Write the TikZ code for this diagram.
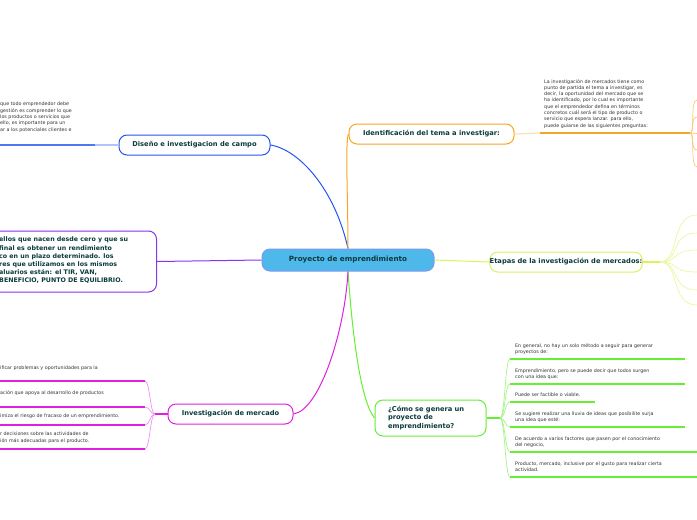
\documentclass[tikz,border=0pt]{standalone}
\usepackage{fontspec}
\setmainfont{DejaVu Sans}
\begin{document}
\begin{tikzpicture}[x=1pt,y=-1pt,
 main/.style={draw=#1,line width=1pt,rounded corners=8pt,font=\fontsize{6.7}{8.2}\selectfont\bfseries,inner sep=0},
 small/.style={font=\fontsize{4.8}{6.3}\selectfont,text=black!80,align=left,anchor=north west,inner sep=0}]
\definecolor{bl}{HTML}{2255EE}\definecolor{orn}{HTML}{F5A623}\definecolor{ylw}{HTML}{DDF060}
\definecolor{grn}{HTML}{66EE33}\definecolor{mag}{HTML}{E020E0}\definecolor{pur}{HTML}{8833EE}
\definecolor{tx}{HTML}{0B3B3B}\definecolor{cfill}{HTML}{4FB8EA}
\useasboundingbox (0,0) rectangle (697,520);
% center
\node[main=bl!60,fill=cfill,minimum width=172pt,minimum height=22pt,text=tx,font=\fontsize{7.2}{8.5}\selectfont\bfseries] (c) at (348,260) {Proyecto de emprendimiento};
% branches
\node[main=bl,fill=white,minimum width=151pt,minimum height=20pt,text=tx] (d) at (194.5,145) {Diseño e investigacion de campo};
\node[main=orn,fill=white,minimum width=165pt,minimum height=20pt,text=tx] (i) at (431.5,134) {Identificación del tema a investigar:};
\node[main=ylw,fill=white,minimum width=150pt,minimum height=20pt,text=tx] (e) at (566,262) {Etapas de la investigación de mercados:};
\node[main=grn,fill=white,minimum width=111pt,minimum height=36pt,text=tx,align=left,text width=85pt] (g) at (430.5,418) {¿Cómo se genera un\\proyecto de\\emprendimiento?};
\node[main=mag,fill=white,minimum width=125pt,minimum height=20pt,text=tx] (m) at (230.5,414) {Investigación de mercado};
\node[main=pur,fill=white,minimum width=180pt,minimum height=61pt,anchor=east] (p) at (157,261.5) {};
\node[font=\fontsize{6.3}{8.2}\selectfont\bfseries,text=tx,align=left,anchor=north west,inner sep=0] (pt) at (-1,237) {ellos que nacen desde cero y que su\\ final es obtener un rendimiento\\co en un plazo determinado. los\\res que utilizamos en los mismos\\aluarios están: el TIR, VAN,\\BENEFICIO, PUNTO DE EQUILIBRIO.};
% connectors from center
\draw[bl,line width=1pt] (c.north) .. controls (335,190) and (300,150) .. (d.east);
\draw[orn,line width=1pt] (c.north) .. controls (348,200) and (345,140) .. (i.west);
\draw[ylw,line width=1pt] (c.east) -- (e.west);
\draw[grn,line width=1pt] (c.south) .. controls (352,330) and (360,400) .. (g.west);
\draw[mag,line width=1pt] (c.south) .. controls (345,330) and (320,410) .. (m.east);
\draw[pur,line width=1pt] (c.west) -- (p.east);
% Diseño
\coordinate (d0) at (0,145);\coordinate (d1) at (95,145);
\draw[bl!35,line width=1.2pt] (d.west) -- (d1);
\draw[bl!80,line width=1.2pt] (d1) -- (d0);
\node[small] (dt) at (0,102) {que todo emprendedor debe\\ gestión es comprender lo que\\ los productos o servicios que\\ ello, es importante para un\\ar a los potenciales clientes e};
% Identificación
\coordinate (ia) at (540,133);\coordinate (ib) at (690,133);
\draw[orn!35,line width=1.2pt] (i.east) -- (ia);
\draw[orn,line width=1.2pt] (ia) -- (ib);
\node[small] (itx) at (544,79) {La investigación de mercados tiene como\\punto de partida el tema a investigar, es\\decir, la oportunidad del mercado que se\\ha identificado, por lo cual es importante\\que el emprendedor defina en términos\\concretos cuál será el tipo de producto o\\servicio que espera lanzar. para ello,\\puede guiarse de las siguientes preguntas:};
\foreach \yy/\n in {100/1,117/2,133/3,150/4,167/5}{
 \coordinate (io\n) at (697,\yy);
 \draw[orn!60,line width=0.7pt] (ib) .. controls (695,133) and (690,\yy) .. (io\n);}
% Etapas
\coordinate (ea) at (660,262);
\draw[ylw,line width=1.2pt] (e.east) -- (ea);
\foreach \yy/\n in {215/1,233/2,250/3,272/4,290/5,305/6}{
 \coordinate (eo\n) at (697,\yy);
 \draw[ylw!60,line width=0.7pt] (ea) .. controls (680,262) and (670,\yy) .. (eo\n);}
% Cómo
\coordinate (ga) at (500,418);
\draw[grn,line width=1.2pt] (g.east) -- (ga);
\foreach \yy/\x/\n in {359/685/1,384/685/2,402/595/3,427/685/4,452/697/5,477/697/6}{
 \coordinate (gs\n) at (510,\yy);\coordinate (ge\n) at (\x,\yy);
 \draw[grn!60,line width=0.7pt] (ga) .. controls (505,418) and (505,\yy) .. (gs\n);
 \draw[grn,line width=1.2pt] (gs\n) -- (ge\n);}
\node[small] (g1) at (515,343.5) {En general, no hay un solo método a seguir para generar\\proyectos de:};
\node[small] (g2) at (515,368.5) {Emprendimiento, pero se puede decir que todos surgen\\con una idea que:};
\node[small] (g3) at (515,392.5) {Puede ser factible o viable.};
\node[small] (g4) at (515,411.5) {Se sugiere realizar una lluvia de ideas que posibilite surja\\una idea que esté:};
\node[small] (g5) at (515,436.5) {De acuerdo a varios factores que pasen por el conocimiento\\del negocio,};
\node[small] (g6) at (515,461.5) {Producto, mercado, inclusive por el gusto para realizar cierta\\actividad.};
% Investigación de mercado
\coordinate (ma) at (155,414);
\draw[mag,line width=1.2pt] (m.west) -- (ma);
\foreach \yy/\n in {381/1,407/2,425/3,449/4}{
 \coordinate (ms\n) at (145,\yy);\coordinate (me\n) at (0,\yy);
 \draw[mag!50,line width=0.7pt] (ma) .. controls (150,414) and (150,\yy) .. (ms\n);
 \draw[mag,line width=1.2pt] (ms\n) -- (me\n);}
\node[small] (m1) at (0,366) {ificar problemas y oportunidades para la};
\node[small] (m2) at (0,390) {ación que apoya al desarrollo de productos};
\node[small] (m3) at (0,414) {imiza el riesgo de fracaso de un emprendimiento.};
\node[small] (m4) at (0,432) {r decisiones sobre las actividades de\\ión más adecuadas para el producto.};
\end{tikzpicture}
\end{document}
